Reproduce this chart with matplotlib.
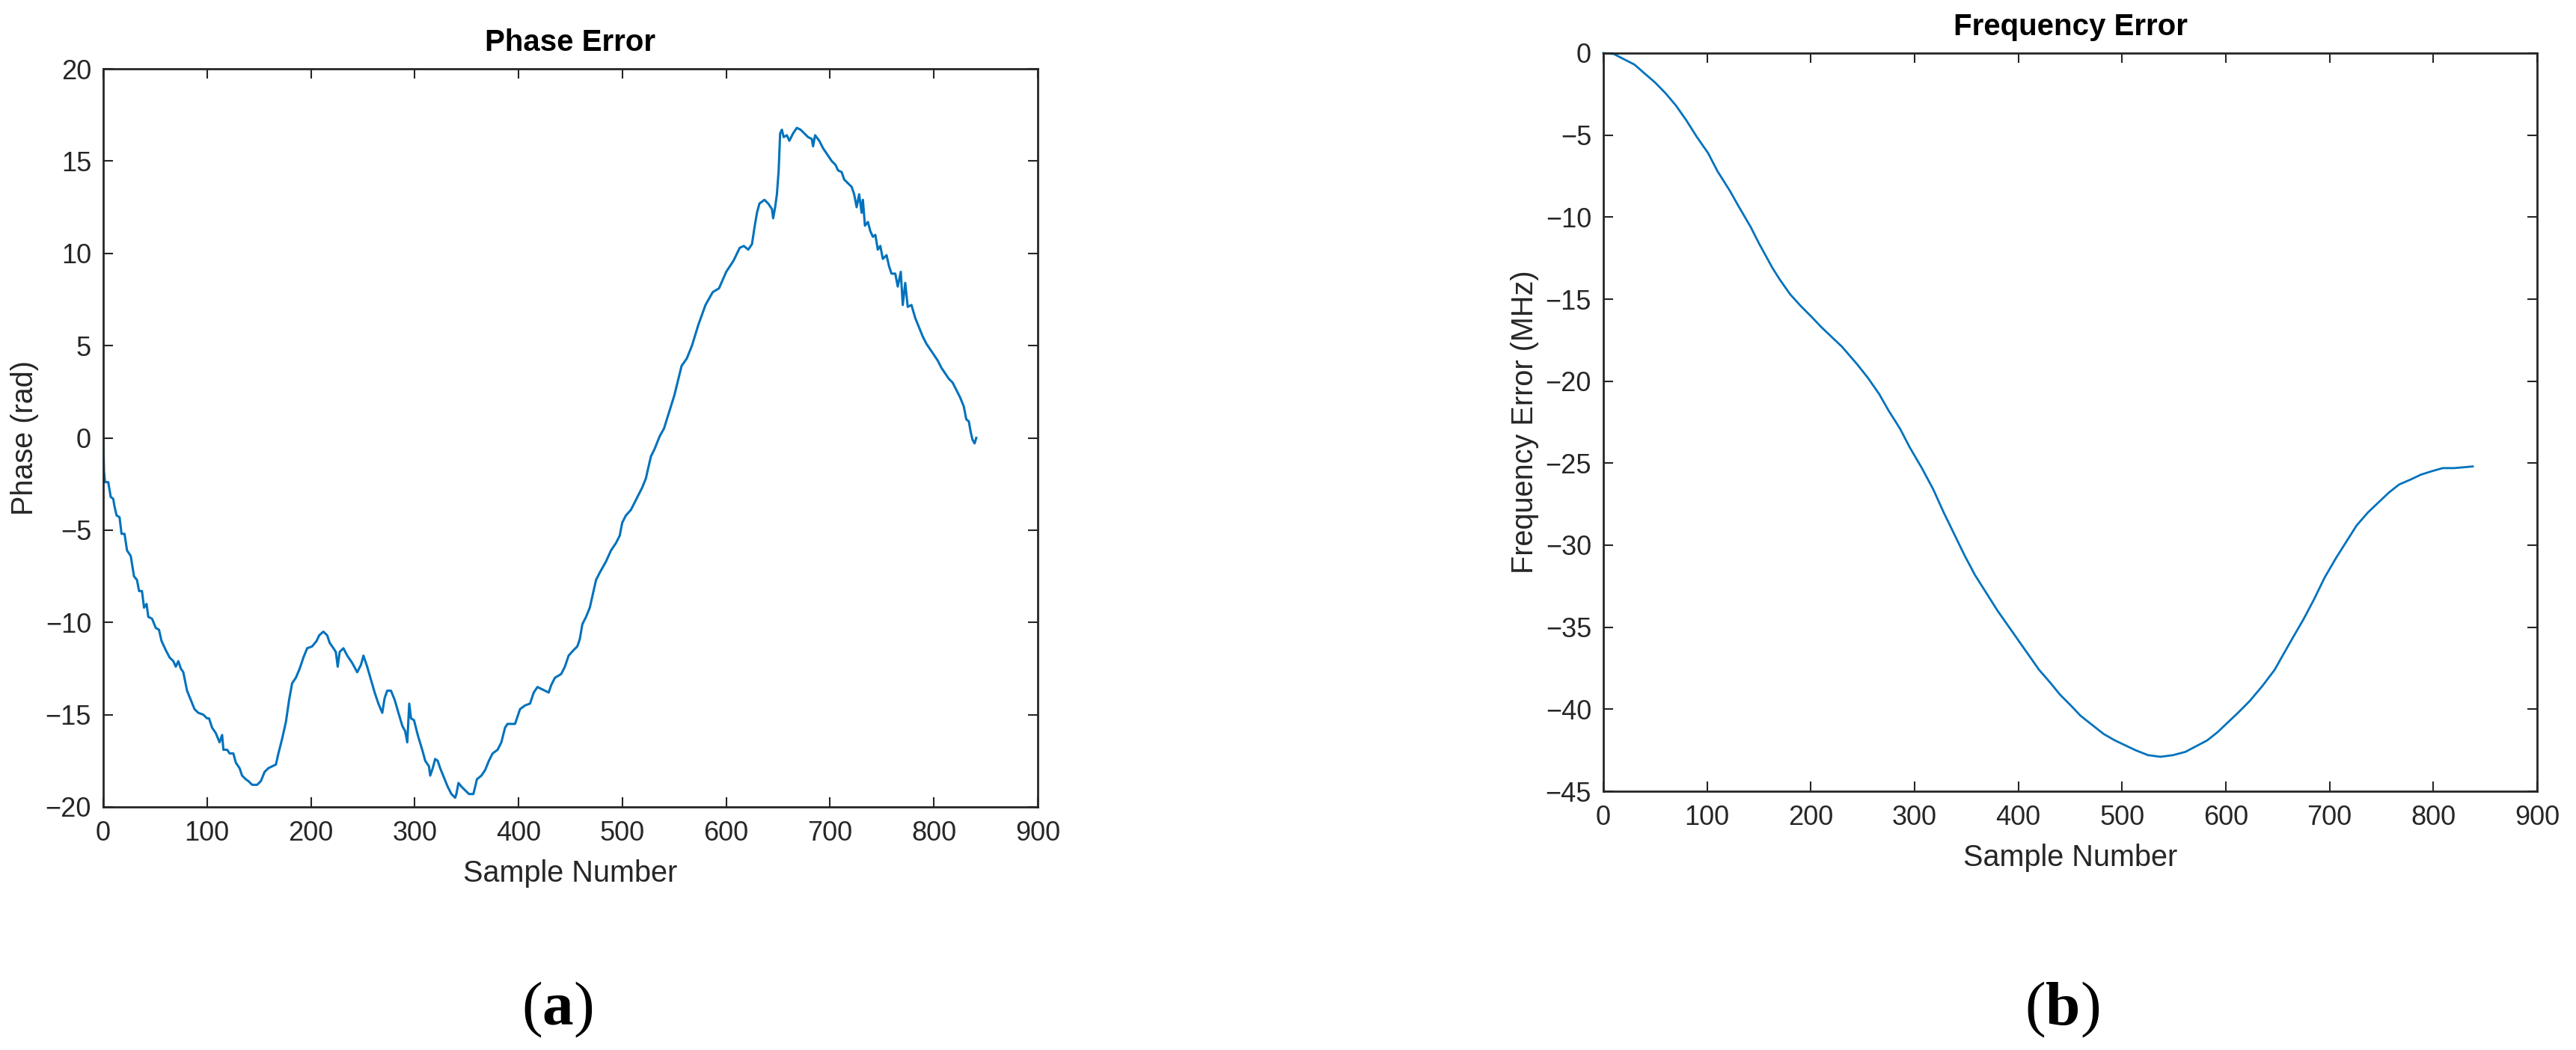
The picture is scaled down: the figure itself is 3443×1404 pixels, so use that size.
import matplotlib
matplotlib.use('Agg')
import matplotlib.pyplot as plt

plt.rcParams['font.family'] = ['Liberation Sans', 'DejaVu Sans']
plt.rcParams['mathtext.fontset'] = 'custom'
plt.rcParams['mathtext.rm'] = 'Liberation Serif'
plt.rcParams['mathtext.bf'] = 'Liberation Serif:bold'

# ---------------- data ----------------
phase_sample = [
    0, 0.7, 1.7, 4.8, 7.2, 9.6, 10.8, 12.8, 15.7, 17.6, 20.5, 22.9, 26.5, 29.6,
    32.5, 34.5, 37.3, 39.3, 41.7, 43.4, 47, 50.6, 53.7, 56.1, 60.2, 63.9, 67.5,
    69.9, 72.3, 74.7, 77.1, 80.7, 84.3, 87.9, 91.6, 96.4, 100, 101.9, 104.8,
    108.4, 112, 114.5, 115.7, 119.3, 121.7, 125.3, 127.7, 131.3, 133.7, 137.3,
    139.8, 143.4, 148.2, 151.8, 155.4, 159, 162.7, 166.3, 168.7, 172.3, 175.9,
    179, 181.9, 185.5, 189.2, 192.8, 196.4, 201.2, 205.5, 208, 212, 215.7, 218,
    221.7, 224, 225.8, 227.7, 231.3, 235, 239.8, 244.6, 248.2, 250.6, 254.2,
    257.8, 261.4, 265, 268.7, 271, 273.5, 277.1, 280.7, 284.3, 288, 290.8,
    292.8, 294.7, 296.4,
    299.3, 302.9, 307.7, 310.1, 313.7, 314.9, 317.3, 319.7, 322.1, 324.5, 328.1,
    331.7, 335.3, 338.9, 340.1, 342.1, 345, 348.6, 352.2, 356.5, 359.9, 364.2,
    367.8, 371.4, 375, 379.8, 383.4, 387, 389.4, 396.6, 399, 401.4, 406.2, 411,
    414.6, 418.2, 421.8, 425.4, 429, 431.4, 435, 441, 444.6, 448.2, 453, 456.6,
    459, 461.4, 465, 468.6, 471, 474.6, 478.2, 484.2, 489, 493.8, 497.4, 499.8,
    503.4, 508.2, 511.8, 515.4, 519, 522.6, 525, 527.5, 531,
    536, 540, 545, 550, 557, 562, 567, 573, 580, 587, 593, 600, 607, 613, 617,
    621.2, 624.8, 627.2, 629.6, 632, 636.8, 640.4, 644, 645.2, 647.1, 648.8,
    650.5, 651.9, 653.6, 655.3, 658.4, 660.8, 664.4, 668, 671.6, 675.2, 678.8,
    682.4, 683.6, 685.6, 689.6, 693.2, 698, 701.6, 705.2, 707.6, 711.2, 713.6,
    717.2, 720.8, 723.2, 725.6, 728, 730.4, 731.6, 733.6, 736.4, 738.8, 741.2,
    743.6, 746, 748.4, 750.8, 754.4, 756.8, 759.2, 762.8, 765.2, 768.1, 770,
    772.4, 774.8, 778.4, 782, 785.6, 789.2, 792.8, 796.4, 800, 803.6, 807.2,
    810.8, 814.4, 818, 821.6, 825.2, 828.8, 831.2, 833.6, 835.5, 837.2, 839.2,
    840.8,
]
phase_rad = [
    0, -1.8, -2.4, -2.4, -3.2, -3.3, -3.7, -4.2, -4.3, -5.2, -5.2, -6.1, -6.4,
    -7.5, -7.7, -8.3, -8.3, -9.2, -9.0, -9.7, -9.8, -10.3, -10.4, -11.0, -11.5,
    -11.9, -12.1, -12.4, -12.1, -12.5, -12.7, -13.7, -14.2, -14.7, -14.9, -15.0,
    -15.2, -15.2, -15.7, -16.0, -16.5, -16.1, -16.9, -16.9, -17.1, -17.1, -17.6,
    -17.9, -18.3, -18.5, -18.6, -18.8, -18.8, -18.6, -18.1, -17.9, -17.8, -17.7,
    -17.1, -16.3, -15.4, -14.2, -13.3, -13.0, -12.5, -11.9, -11.4, -11.3, -11.0,
    -10.7, -10.5, -10.7, -11.1, -11.4, -11.6, -12.4, -11.6, -11.4, -11.8, -12.2,
    -12.7, -12.3, -11.8, -12.4, -13.1, -13.8, -14.4, -14.9, -14.1, -13.7, -13.7,
    -14.2, -14.9, -15.6, -15.9, -16.5, -14.4, -15.2,
    -15.3, -16.1, -17.0, -17.5, -17.8, -18.3, -17.9, -17.4, -17.5, -17.9, -18.4,
    -18.9, -19.3, -19.5, -19.3, -18.7, -18.9, -19.1, -19.3, -19.3, -18.5, -18.3,
    -18.0, -17.5, -17.1, -16.9, -16.5, -15.7, -15.5, -15.5, -15.1, -14.7, -14.5,
    -14.4, -13.8, -13.5, -13.6, -13.7, -13.8, -13.4, -13.0, -12.8, -12.4, -11.8,
    -11.5, -11.3, -10.9, -10.1, -9.7, -9.2, -8.6, -7.7, -7.3, -6.7, -6.1, -5.7,
    -5.3, -4.6, -4.2, -3.9, -3.5, -3.1, -2.7, -2.2, -1.6, -1.0, -0.6,
    0.1, 0.5, 1.4, 2.3, 3.9, 4.3, 5.0, 6.1, 7.2, 7.9, 8.1, 9.0, 9.6, 10.3, 10.4,
    10.2, 10.5, 11.4, 12.2, 12.7, 12.9, 12.7, 12.4, 11.9, 12.5, 13.2, 14.5, 16.5,
    16.7, 16.3, 16.4, 16.1, 16.5, 16.8, 16.7, 16.5, 16.3, 16.2, 15.8, 16.4, 16.1,
    15.7, 15.3, 15.0, 14.8, 14.5, 14.4, 14.0, 13.8, 13.6, 13.2, 12.5, 13.2, 12.2,
    12.9, 11.5, 11.7, 11.2, 10.9, 11.0, 10.2, 10.4, 9.7, 9.9, 9.3, 8.9, 8.9, 8.2,
    9.0, 7.2, 8.4, 7.1, 7.2, 6.5, 6.0, 5.5, 5.1, 4.8, 4.5, 4.2, 3.8, 3.5, 3.2,
    3.0, 2.6, 2.2, 1.7, 1.0, 0.9, 0.3, -0.1, -0.3, 0.0,
]

freq_sample = [
    0, 10, 18.5, 30, 39, 50, 60, 70, 80, 90, 101, 110, 122, 130, 142, 150, 163,
    170, 180, 190, 201, 210, 225, 230, 245, 255, 266, 275, 286, 295, 307, 318,
    328, 338, 348, 358, 369, 380, 390, 400, 410, 420, 431, 440, 451, 460, 472,
    482, 493, 503, 513, 525, 537, 549, 561, 570, 582, 592, 602, 612, 623, 635,
    647, 655, 664, 675, 685, 695, 706, 716, 726, 737, 747, 757, 767, 778, 788,
    798, 809, 820, 838,
]
freq_mhz = [
    0, -0.05, -0.33, -0.7, -1.2, -1.8, -2.45, -3.2, -4.1, -5.1, -6.1, -7.2, -8.4,
    -9.3, -10.6, -11.6, -13.1, -13.8, -14.7, -15.4, -16.1, -16.7, -17.6, -17.9,
    -19.0, -19.8, -20.8, -21.8, -22.9, -24.0, -25.3, -26.6, -28.0, -29.3, -30.6,
    -31.8, -32.9, -34.0, -34.9, -35.8, -36.7, -37.6, -38.4, -39.1, -39.8, -40.4,
    -41.0, -41.5, -41.9, -42.2, -42.5, -42.8, -42.9, -42.8, -42.6, -42.3, -41.9,
    -41.4, -40.8, -40.2, -39.5, -38.6, -37.6, -36.7, -35.7, -34.5, -33.3, -32.0,
    -30.8, -29.8, -28.8, -28.0, -27.4, -26.8, -26.3, -26.0, -25.7, -25.5, -25.3,
    -25.3, -25.2,
]

x_ticks = [0, 100, 200, 300, 400, 500, 600, 700, 800, 900]
phase_yticks = [-20, -15, -10, -5, 0, 5, 10, 15, 20]
freq_yticks = [-45, -40, -35, -30, -25, -20, -15, -10, -5, 0]

titles = ['Phase Error', 'Frequency Error']
xlabel = 'Sample Number'
ylabels = ['Phase (rad)', 'Frequency Error (MHz)']
panel_tags = [r'$(\mathbf{a})$', r'$(\mathbf{b})$']

# ---------------- style ----------------
LINE = '#0072BD'
AXC = '#262626'
W, H = 3443, 1404

fig = plt.figure(figsize=(W / 100, H / 100), dpi=100)
fig.patch.set_facecolor('white')

ax1 = fig.add_axes([138 / W, 1 - 1079 / H, (1387 - 138) / W, (1079 - 92) / H])
ax2 = fig.add_axes([2143 / W, 1 - 1058 / H, (3391 - 2143) / W, (1058 - 71) / H])


def style(ax, yticks, ylim, title, ylabel):
    ax.set_xlim(0, 900)
    ax.set_ylim(*ylim)
    ax.set_xticks(x_ticks)
    ax.set_yticks(yticks)
    for s in ax.spines.values():
        s.set_color(AXC)
        s.set_linewidth(2.0)
    ax.tick_params(direction='in', length=9.4, width=1.5, top=True, right=True,
                   labelsize=26, colors=AXC)
    ax.tick_params(axis='x', pad=13)
    ax.tick_params(axis='y', pad=11.5)
    ax.set_title(title, fontsize=29, fontweight='bold', color='black', pad=17)
    ax.set_xlabel(xlabel, fontsize=28.5, color=AXC)
    ax.set_ylabel(ylabel, fontsize=28.5, color=AXC)
    ax.xaxis.set_label_coords(0.5, -0.071)
    ax.yaxis.set_label_coords(-0.069, 0.5)


ax1.plot(phase_sample, phase_rad, color=LINE, linewidth=2.2,
         solid_joinstyle='round')
style(ax1, phase_yticks, (-20, 20), titles[0], ylabels[0])

ax2.plot(freq_sample, freq_mhz, color=LINE, linewidth=2.0, clip_on=False,
         solid_joinstyle='round')
style(ax2, freq_yticks, (-45, 0), titles[1], ylabels[1])

fig.text(745 / W, 1 - 1350 / H, panel_tags[0], ha='center', va='center',
         fontsize=60, color='black')
fig.text(2756 / W, 1 - 1350 / H, panel_tags[1], ha='center', va='center',
         fontsize=60, color='black')

fig.savefig('out.png', dpi=100, facecolor='white')
